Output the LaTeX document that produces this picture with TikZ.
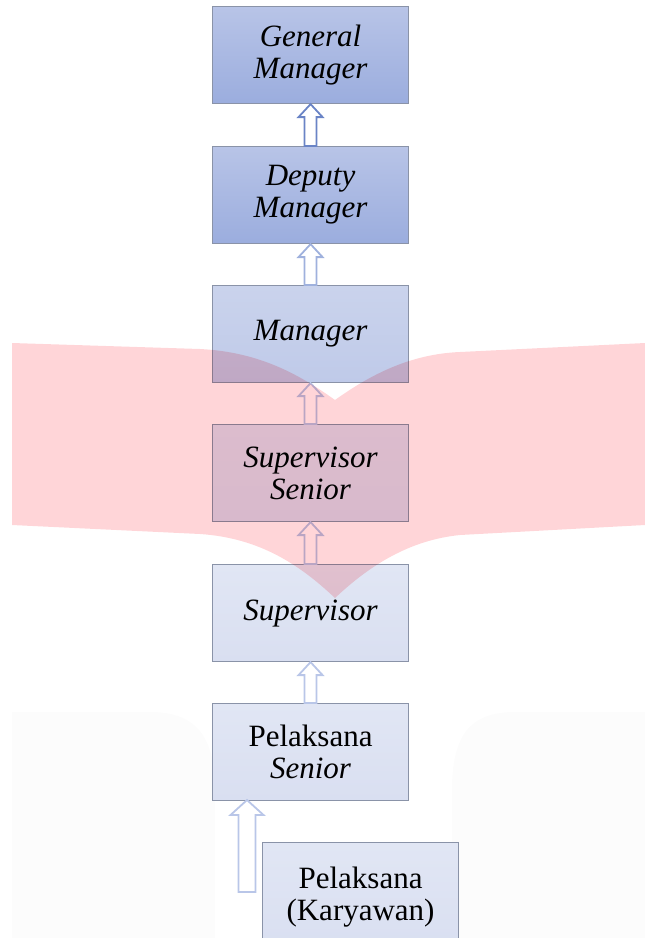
\documentclass[tikz,border=0pt]{standalone}
\usepackage{fontspec}
\setmainfont{Liberation Serif}
\newfontfamily\tnr{Liberation Serif}
\usetikzlibrary{calc}
\definecolor{boxedge}{HTML}{8A93A8}
\definecolor{gmtop}{HTML}{B8C4E7}
\definecolor{gmbot}{HTML}{9BADDE}
\definecolor{mtop}{HTML}{CAD3EC}
\definecolor{mbot}{HTML}{BFCAE9}
\definecolor{stop}{HTML}{DCE2F3}
\definecolor{sbot}{HTML}{D8DEF1}
\definecolor{ltop}{HTML}{E1E6F4}
\definecolor{lbot}{HTML}{D9DFF1}
\definecolor{arrdark}{HTML}{6A84C6}
\definecolor{arrmid}{HTML}{9FB1DD}
\definecolor{arrlight}{HTML}{B9C6E8}
\definecolor{wmgray}{HTML}{FCFCFC}
\definecolor{wmpink}{HTML}{FFD5D8}
\tikzset{
  box/.style={draw=boxedge, line width=1.1pt, minimum width=196pt, minimum height=97pt,
    inner sep=0pt, align=center, anchor=north west, font=\tnr\fontsize{31}{32}\selectfont},
  hollowarrow/.style={draw=#1, line width=1.8pt, fill=white, line join=miter}
}
\newcommand\blockarrow[6]{% tail, tip, color, half shaft, half head, head length
  \draw[hollowarrow=#3] let \p1=(#1), \p2=(#2) in
    (\x1-#4,\y1) -- (\x1-#4,\y2-#6) -- (\x1-#5,\y2-#6) -- (\x2,\y2)
    -- (\x1+#5,\y2-#6) -- (\x1+#4,\y2-#6) -- (\x1+#4,\y1) -- cycle;}
\begin{document}
\begin{tikzpicture}[x=1pt,y=-1pt]
\useasboundingbox (0,0) rectangle (645,938);
% faint gray watermark
\fill[wmgray] (12,950) -- (12,712) -- (150,712) .. controls (195,712) and (215,735) .. (215,790) -- (215,950) -- cycle;
\fill[wmgray] (645,950) -- (645,712) -- (515,712) .. controls (470,712) and (452,735) .. (452,790) -- (452,950) -- cycle;
% boxes
\node[box, top color=gmtop, bottom color=gmbot] (gm) at (212,6) {\itshape General\\\itshape Manager};
\node[box, top color=gmtop, bottom color=gmbot] (dm) at (212,146) {\itshape Deputy\\\itshape Manager};
\node[box, top color=mtop, bottom color=mbot] (m) at (212,285) {\itshape Manager};
\node[box, top color=stop, bottom color=sbot] (ss) at (212,424) {\itshape Supervisor\\\itshape Senior};
\node[box, top color=ltop, bottom color=lbot] (s) at (212,564) {\itshape Supervisor};
\node[box, top color=ltop, bottom color=lbot] (ps) at (212,703) {Pelaksana\\\itshape Senior};
\node[box, top color=ltop, bottom color=lbot, minimum height=110pt] (pk) at (262,842) {Pelaksana\\(Karyawan)};
% arrows
\blockarrow{dm.north}{gm.south}{arrdark}{6pt}{12pt}{13pt}
\blockarrow{m.north}{dm.south}{arrmid}{6pt}{12pt}{13pt}
\blockarrow{ss.north}{m.south}{arrlight}{6pt}{12pt}{13pt}
\blockarrow{s.north}{ss.south}{arrlight}{6pt}{12pt}{13pt}
\blockarrow{ps.north}{s.south}{arrlight}{6pt}{12pt}{13pt}
\coordinate (tail) at (247,892);
\coordinate (tip) at (247,800);
\blockarrow{tail}{tip}{arrlight}{8.5pt}{16.5pt}{15pt}
% pink watermark overlay
\begin{scope}[blend mode=multiply]
\fill[wmpink] (12,343) -- (200,349) .. controls (260,352) and (300,375) .. (335,400)
  .. controls (370,375) and (410,354) .. (460,352) -- (645,343) -- (645,525) -- (460,535)
  .. controls (410,540) and (370,565) .. (335,598) .. controls (300,565) and (260,538) .. (200,534)
  -- (12,525) -- cycle;
\end{scope}
\end{tikzpicture}
\end{document}
